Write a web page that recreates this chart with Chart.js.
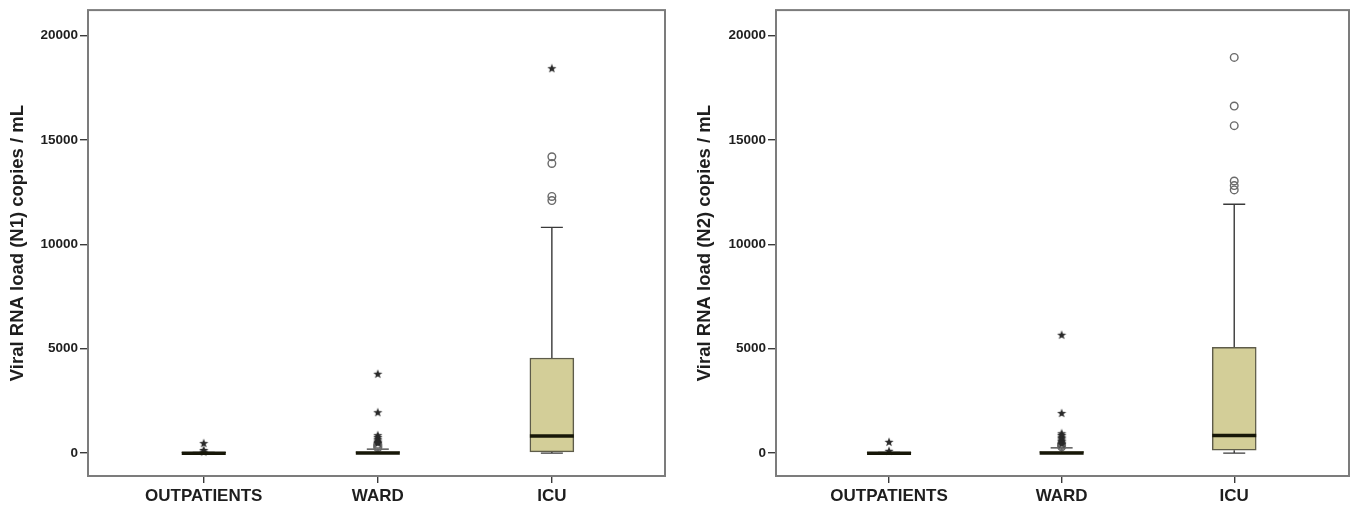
<!DOCTYPE html>
<html>
<head>
<meta charset="utf-8">
<script src="https://cdn.jsdelivr.net/npm/chart.js@4.4.1/dist/chart.umd.min.js"></script>
<style>
  html, body { margin: 0; padding: 0; background: #ffffff; }
  body { width: 1355px; height: 508px; position: relative; overflow: hidden; }
  .panel { position: absolute; top: 0; height: 508px; }
  #p1 { left: 0; width: 680px; }
  #p2 { left: 680px; width: 675px; }
</style>
</head>
<body>
<div class="panel" id="p1"><canvas id="c1"></canvas></div>
<div class="panel" id="p2"><canvas id="c2"></canvas></div>
<script>
// Patient groups and y-axis ticks
const categories = ['OUTPATIENTS', 'WARD', 'ICU'];
const yTickValues = [0, 5000, 10000, 15000, 20000];

// Box summaries per group: [lower whisker, Q1, median, Q3, upper whisker]
const n1Stats = [
  [0, 0, 0, 15, 30],
  [0, 0, 10, 60, 190],
  [0, 62, 824, 4557, 10810]
];
const n2Stats = [
  [0, 0, 0, 15, 30],
  [0, 0, 10, 70, 250],
  [0, 143, 845, 5062, 11920]
];

// Outliers (open circles) and extreme values (stars) per group
const n1Circles = [[], [260, 310, 370, 430], [14190, 13870, 12290, 12095]];
const n1Stars = [[480, 150, 70], [3800, 1960, 860, 770, 690, 610, 540, 480], [18430]];
const n2Circles = [[], [300, 360, 420], [18950, 16620, 15680, 13030, 12810, 12605]];
const n2Stars = [[540, 110], [5667, 1921, 950, 870, 790, 720, 650, 580, 510, 450], []];

const FONT = "'Liberation Sans', Arial, Helvetica, sans-serif";
const TEXT = '#1e1e1e';
const BOX_FILL = '#d3ce98';
const BOX_EDGE = '#5e5c4a';
const BOX_PX = 44;
const CAP_PX = 22;

// Filled five-point star used for extreme values
function makeStar() {
  const c = document.createElement('canvas');
  c.width = 10; c.height = 10;
  const g = c.getContext('2d');
  g.fillStyle = '#2a2a2a';
  g.beginPath();
  for (let i = 0; i < 10; i++) {
    const r = i % 2 === 0 ? 4.8 : 2.0;
    const a = -Math.PI / 2 + i * Math.PI / 5;
    const px = 5 + r * Math.cos(a), py = 5.4 + r * Math.sin(a);
    if (i === 0) g.moveTo(px, py); else g.lineTo(px, py);
  }
  g.closePath();
  g.fill();
  return c;
}
const starImg = makeStar();

function toPoints(groups) {
  const pts = [];
  groups.forEach((vals, i) => vals.forEach(v => pts.push({ x: i, y: v })));
  return pts;
}

// Whiskers, caps, medians and the plot frame, placed through the chart scales
const boxPlotPlugin = {
  id: 'boxPlot',
  beforeDatasetsDraw(chart, args, opts) {
    const { ctx, scales: { x, y } } = chart;
    ctx.save();
    ctx.strokeStyle = '#3a3a3a';
    ctx.lineWidth = 1.4;
    opts.stats.forEach((s, i) => {
      const cx = x.getPixelForValue(i);
      const [lo, q1, , q3, hi] = s;
      ctx.beginPath();
      ctx.moveTo(cx, y.getPixelForValue(q3)); ctx.lineTo(cx, y.getPixelForValue(hi));
      ctx.moveTo(cx, y.getPixelForValue(q1)); ctx.lineTo(cx, y.getPixelForValue(lo));
      ctx.moveTo(cx - CAP_PX / 2, y.getPixelForValue(hi)); ctx.lineTo(cx + CAP_PX / 2, y.getPixelForValue(hi));
      ctx.moveTo(cx - CAP_PX / 2, y.getPixelForValue(lo)); ctx.lineTo(cx + CAP_PX / 2, y.getPixelForValue(lo));
      ctx.stroke();
    });
    ctx.restore();
  },
  afterDatasetsDraw(chart, args, opts) {
    const { ctx, chartArea: a, scales: { x, y } } = chart;
    ctx.save();
    ctx.strokeStyle = '#171708';
    ctx.lineWidth = 3.5;
    opts.stats.forEach((s, i) => {
      const cx = x.getPixelForValue(i);
      const my = y.getPixelForValue(s[2]);
      ctx.beginPath();
      ctx.moveTo(cx - BOX_PX / 2, my); ctx.lineTo(cx + BOX_PX / 2, my);
      ctx.stroke();
    });
    ctx.strokeStyle = '#7c7c7c';
    ctx.lineWidth = 2;
    ctx.strokeRect(a.left, a.top, a.right - a.left, a.bottom - a.top);
    ctx.restore();
  }
};

function makeChart(id, stats, circles, stars, title, pad, xMin, xMax, yAxisWidth, titlePad) {
  return new Chart(document.getElementById(id), {
    type: 'bar',
    data: {
      datasets: [
        {
          type: 'bar',
          data: stats.map((s, i) => ({ x: i, y: [s[1], s[3]] })),
          backgroundColor: BOX_FILL,
          borderColor: BOX_EDGE,
          borderWidth: 1.5,
          borderSkipped: false,
          barThickness: BOX_PX,
          order: 3
        },
        {
          type: 'scatter',
          data: toPoints(circles),
          pointStyle: 'circle',
          pointRadius: 3.8,
          borderWidth: 1.4,
          borderColor: '#6a6a6a',
          backgroundColor: 'rgba(255,255,255,0)',
          order: 2
        },
        {
          type: 'scatter',
          data: toPoints(stars),
          pointStyle: starImg,
          pointRadius: 5,
          order: 1
        }
      ]
    },
    options: {
      responsive: true,
      maintainAspectRatio: false,
      animation: false,
      events: [],
      layout: { padding: pad },
      plugins: {
        legend: { display: false },
        tooltip: { enabled: false },
        boxPlot: { stats: stats }
      },
      scales: {
        x: {
          type: 'linear',
          min: xMin,
          max: xMax,
          offset: false,
          border: { display: false },
          grid: { display: true, offset: false, drawOnChartArea: false, drawTicks: true, tickLength: 7, color: '#3a3a3a', lineWidth: 1.4 },
          afterBuildTicks: s => { s.ticks = categories.map((c, i) => ({ value: i })); },
          afterFit: s => { s.height = 32; },
          ticks: {
            autoSkip: false,
            maxRotation: 0,
            padding: 3,
            color: TEXT,
            font: { family: FONT, size: 17, weight: 'bold' },
            callback: v => categories[v]
          }
        },
        y: {
          type: 'linear',
          min: -1095,
          max: 21214,
          border: { display: false },
          grid: { display: true, drawOnChartArea: false, drawTicks: true, tickLength: 8, color: '#3a3a3a', lineWidth: 1.4 },
          afterBuildTicks: s => { s.ticks = yTickValues.map(v => ({ value: v })); },
          afterFit: s => { s.width = yAxisWidth; },
          ticks: {
            padding: 2,
            color: TEXT,
            font: { family: FONT, size: 13.5, weight: 'bold' },
            callback: v => String(v)
          },
          title: {
            display: true,
            text: title,
            color: TEXT,
            padding: { top: titlePad, bottom: 0 },
            font: { family: FONT, size: 18.5, weight: 'bold' }
          }
        }
      }
    },
    plugins: [boxPlotPlugin]
  });
}

makeChart('c1', n1Stats, n1Circles, n1Stars, 'Viral RNA load (N1) copies / mL',
  { left: 0, right: 15, top: 7.5, bottom: 0 }, -0.665, 2.650, 88, 7);
makeChart('c2', n2Stats, n2Circles, n2Stars, 'Viral RNA load (N2) copies / mL',
  { left: 0, right: 3, top: 7.5, bottom: 0 }, -0.655, 2.665, 96, 14);
</script>
</body>
</html>
